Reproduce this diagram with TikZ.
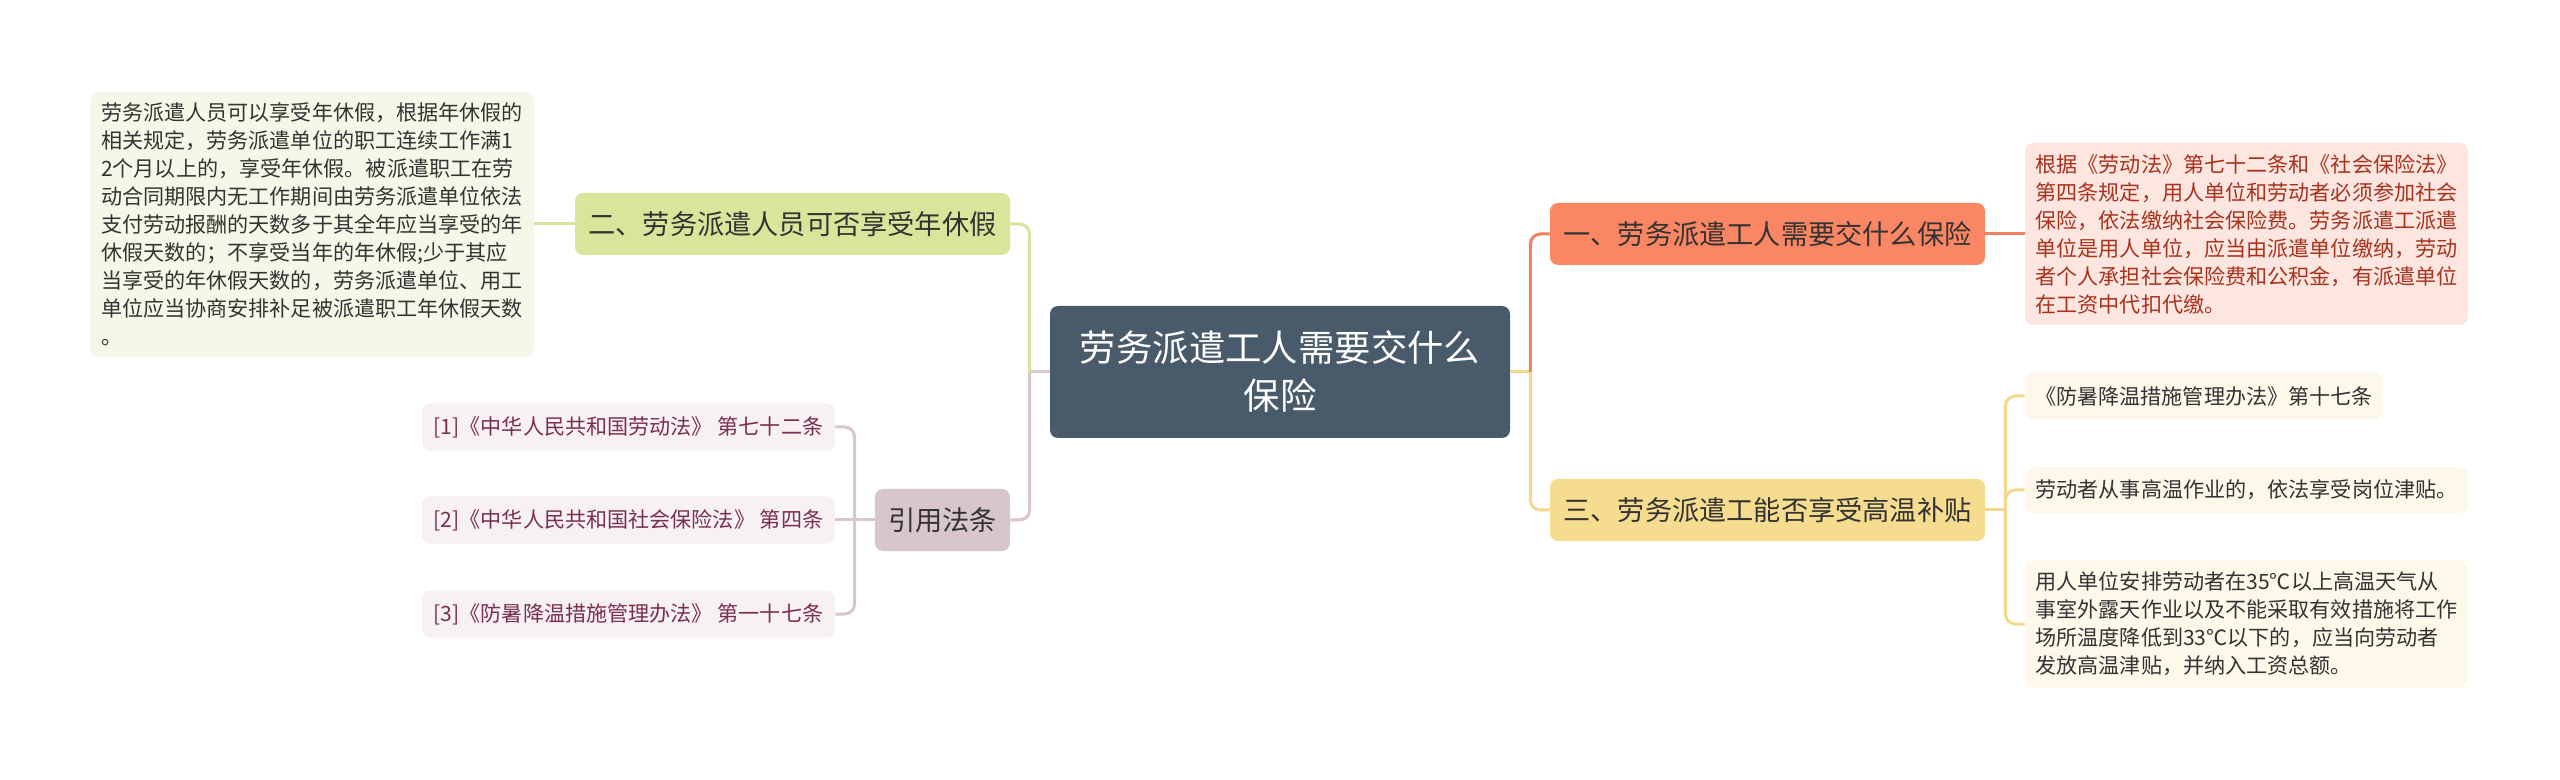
\documentclass[tikz,border=0pt]{standalone}
\usepackage{fontspec}
\setmainfont{Noto Sans CJK SC}
\definecolor{cdark}{HTML}{495A6B}
\definecolor{cgreen}{HTML}{D9E59A}
\definecolor{cgreenline}{HTML}{D6E39A}
\definecolor{cgreenpale}{HTML}{F5F8E9}
\definecolor{cpink}{HTML}{D8C6CE}
\definecolor{cpinkpale}{HTML}{F7F1F3}
\definecolor{cpinktext}{HTML}{7A2E52}
\definecolor{cred}{HTML}{FA8664}
\definecolor{credline}{HTML}{F08160}
\definecolor{credpale}{HTML}{FDE5E0}
\definecolor{credtext}{HTML}{A8321C}
\definecolor{cyellow}{HTML}{F6DC8E}
\definecolor{cyellowline}{HTML}{F3D98B}
\definecolor{cyellowpale}{HTML}{FDF8E9}
\definecolor{ctext}{HTML}{333333}
\tikzset{
  box/.style={rounded corners=4pt, inner sep=0pt, anchor=center},
  leaftext/.style={box, align=left, font=\fontsize{10.55pt}{14pt}\selectfont},
  mainbox/.style={box, minimum width=217.5pt, minimum height=31pt, font=\fontsize{13.6pt}{16pt}\selectfont, text=ctext},
  conn/.style={line width=1.5pt, rounded corners=5pt},
}
\begin{document}
\begin{tikzpicture}[x=0.5pt,y=-0.5pt]
\useasboundingbox[fill=white] (0,0) rectangle (2560,780);

% central
\node[box, fill=cdark, text=white, align=center, minimum width=230pt, minimum height=66pt,
  font=\fontsize{18.2pt}{24pt}\selectfont] (c) at (1280,372) {劳务派遣工人需要交什么\\保险};

% level 1
\node[mainbox, fill=cgreen] (b2) at (792.5,224) {二、劳务派遣人员可否享受年休假};
\node[mainbox, fill=cpink, minimum width=67.5pt] (law) at (942.5,520) {引用法条};
\node[mainbox, fill=cred] (b1) at (1767.5,234) {一、劳务派遣工人需要交什么保险};
\node[mainbox, fill=cyellow] (b3) at (1767.5,510) {三、劳务派遣工能否享受高温补贴};

% left detail
\node[leaftext, fill=cgreenpale, text=ctext, minimum width=222pt, minimum height=132.5pt] (lt) at (312,224.5) {劳务派遣人员可以享受年休假，根据年休假的\\相关规定，劳务派遣单位的职工连续工作满1\\2个月以上的，享受年休假。被派遣职工在劳\\动合同期限内无工作期间由劳务派遣单位依法\\支付劳动报酬的天数多于其全年应当享受的年\\休假天数的；不享受当年的年休假;少于其应\\当享受的年休假天数的，劳务派遣单位、用工\\单位应当协商安排补足被派遣职工年休假天数\\。};

% refs
\node[leaftext, fill=cpinkpale, text=cpinktext, minimum width=206.5pt, minimum height=23.5pt] (r1) at (628.5,427) {[1]《中华人民共和国劳动法》 第七十二条};
\node[leaftext, fill=cpinkpale, text=cpinktext, minimum width=206.5pt, minimum height=23.5pt] (r2) at (628.5,520) {[2]《中华人民共和国社会保险法》 第四条};
\node[leaftext, fill=cpinkpale, text=cpinktext, minimum width=206.5pt, minimum height=23.5pt] (r3) at (628.5,614) {[3]《防暑降温措施管理办法》 第一十七条};

% right details
\node[leaftext, fill=credpale, text=credtext, minimum width=221.5pt, minimum height=91pt] (rt) at (2246.5,234) {根据《劳动法》第七十二条和《社会保险法》\\第四条规定，用人单位和劳动者必须参加社会\\保险，依法缴纳社会保险费。劳务派遣工派遣\\单位是用人单位，应当由派遣单位缴纳，劳动\\者个人承担社会保险费和公积金，有派遣单位\\在工资中代扣代缴。};
\node[leaftext, fill=cyellowpale, text=ctext, minimum width=179pt, minimum height=23pt] (y1) at (2204,396) {《防暑降温措施管理办法》第十七条};
\node[leaftext, fill=cyellowpale, text=ctext, minimum width=221.5pt, minimum height=23pt] (y2) at (2246.5,490) {劳动者从事高温作业的，依法享受岗位津贴。};
\node[leaftext, fill=cyellowpale, text=ctext, minimum width=221.5pt, minimum height=64pt] (y3) at (2246.5,624) {用人单位安排劳动者在35℃以上高温天气从\\事室外露天作业以及不能采取有效措施将工作\\场所温度降低到33℃以下的，应当向劳动者\\发放高温津贴，并纳入工资总额。};

% connectors left
\draw[conn, cpink] (c.west) -- ++(-20,0) coordinate (jl);
\draw[conn, cgreenline] (jl) |- (b2.east);
\draw[conn, cpink] (jl) |- (law.east);
\draw[conn, cgreenline] (lt.east |- b2.west) -- (b2.west);
\draw[conn, cpink] (law.west) -- ++(-20,0) coordinate (jr0);
\draw[conn, cpink] (jr0) |- (r1.east);
\draw[conn, cpink] (jr0) -- (r2.east);
\draw[conn, cpink] (jr0) |- (r3.east);

% connectors right
\draw[conn, cyellowline] (c.east) -- ++(20,0) coordinate (jr);
\draw[conn, credline] (jr) |- (b1.west);
\draw[conn, cyellowline] (jr) |- (b3.west);
\draw[conn, credline] (b1.east) -- (rt.west |- b1.east);
\draw[conn, cyellowline] (b3.east) -- ++(20,0) coordinate (j3);
\draw[conn, cyellowline] (j3) |- (y1.west);
\draw[conn, cyellowline] (j3) |- (y2.west);
\draw[conn, cyellowline] (j3) |- (y3.west);
\end{tikzpicture}
\end{document}
